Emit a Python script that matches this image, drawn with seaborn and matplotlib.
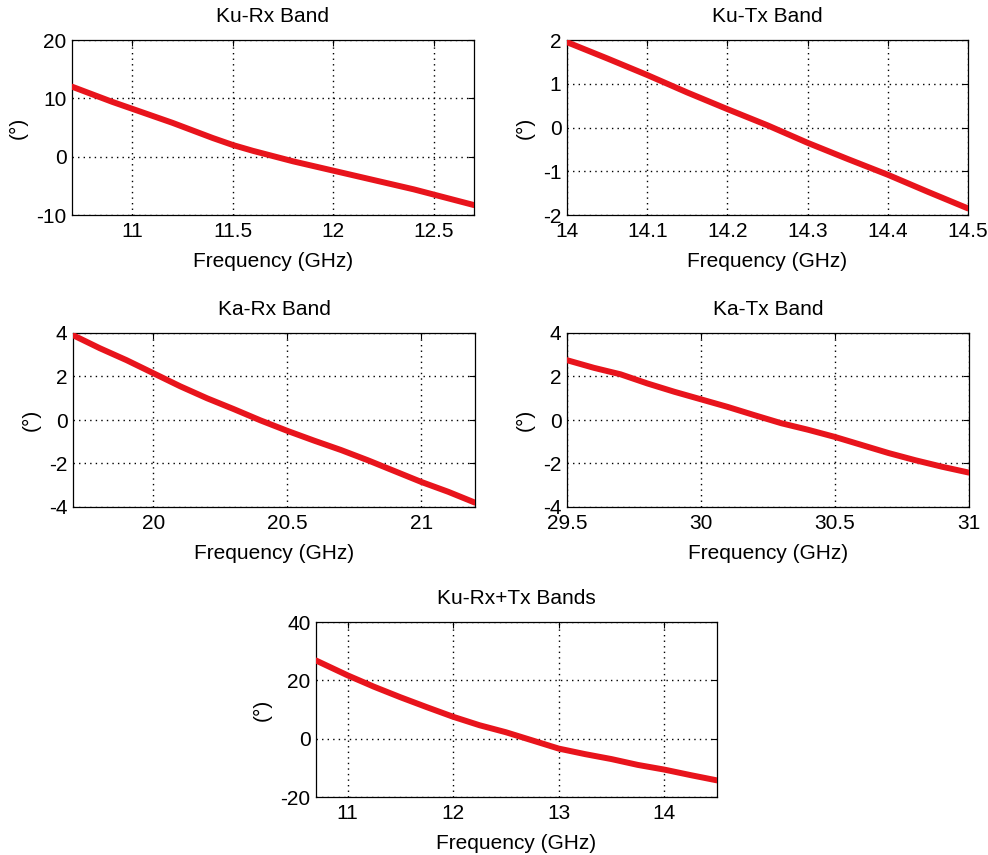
import numpy as np
import pandas as pd
import matplotlib
matplotlib.use("Agg")
import matplotlib.pyplot as plt
import seaborn as sns

# ---- data ----
ku_rx_f = [10.7, 10.8, 10.9, 11.0, 11.1, 11.2, 11.3, 11.4, 11.5, 11.6, 11.7, 11.8, 11.9, 12.0, 12.1, 12.2, 12.3, 12.4, 12.5, 12.6, 12.7]
ku_rx_v = [12.0, 10.7, 9.4, 8.2, 7.0, 5.8, 4.5, 3.2, 2.0, 1.0, 0.1, -0.8, -1.6, -2.4, -3.2, -4.0, -4.8, -5.6, -6.5, -7.4, -8.3]

ku_tx_f = [14.0, 14.05, 14.1, 14.15, 14.2, 14.25, 14.3, 14.35, 14.4, 14.45, 14.5]
ku_tx_v = [1.95, 1.58, 1.2, 0.8, 0.42, 0.05, -0.35, -0.72, -1.08, -1.47, -1.85]

ka_rx_f = [19.7, 19.8, 19.9, 20.0, 20.1, 20.2, 20.3, 20.4, 20.5, 20.6, 20.7, 20.8, 20.9, 21.0, 21.1, 21.2]
ka_rx_v = [3.9, 3.3, 2.75, 2.15, 1.55, 1.0, 0.5, -0.02, -0.5, -0.95, -1.38, -1.85, -2.35, -2.85, -3.3, -3.8]

ka_tx_f = [29.5, 29.6, 29.7, 29.8, 29.9, 30.0, 30.1, 30.2, 30.3, 30.4, 30.5, 30.6, 30.7, 30.8, 30.9, 31.0]
ka_tx_v = [2.75, 2.4, 2.1, 1.68, 1.3, 0.95, 0.6, 0.22, -0.15, -0.45, -0.78, -1.15, -1.52, -1.85, -2.15, -2.42]

ku_all_f = [10.7, 11.0, 11.25, 11.5, 11.75, 12.0, 12.25, 12.5, 12.75, 13.0, 13.25, 13.5, 13.75, 14.0, 14.25, 14.5]
ku_all_v = [26.8, 21.7, 17.8, 14.2, 10.8, 7.5, 4.6, 2.2, -0.6, -3.4, -5.3, -7.0, -9.0, -10.6, -12.5, -14.3]

titles = ["Ku-Rx Band", "Ku-Tx Band", "Ka-Rx Band", "Ka-Tx Band", "Ku-Rx+Tx Bands"]
xlims = [(10.7, 12.7), (14.0, 14.5), (19.7, 21.2), (29.5, 31.0), (10.7, 14.5)]
ylims = [(-10, 20), (-2, 2), (-4, 4), (-4, 4), (-20, 40)]
xticks = [[11, 11.5, 12, 12.5], [14, 14.1, 14.2, 14.3, 14.4, 14.5], [20, 20.5, 21],
          [29.5, 30, 30.5, 31], [11, 12, 13, 14]]
yticks = [[-10, 0, 10, 20], [-2, -1, 0, 1, 2], [-4, -2, 0, 2, 4], [-4, -2, 0, 2, 4], [-20, 0, 20, 40]]
xlabel = "Frequency (GHz)"
ylabel = "(°)"

series = [(ku_rx_f, ku_rx_v), (ku_tx_f, ku_tx_v), (ka_rx_f, ka_rx_v), (ka_tx_f, ka_tx_v), (ku_all_f, ku_all_v)]

sns.set_style("white")
plt.rcParams["font.family"] = ["Liberation Sans", "DejaVu Sans"]
plt.rcParams["font.size"] = 15
plt.rcParams["text.color"] = "black"
plt.rcParams["axes.labelcolor"] = "black"
plt.rcParams["axes.titlecolor"] = "black"

W, H = 988, 855
fig = plt.figure(figsize=(W / 100, H / 100), dpi=100)

# axes boxes in pixels: left, top, right, bottom
boxes = [(72, 40, 474, 215), (567, 40, 968, 215), (73, 333, 475, 507), (567, 333, 969, 507), (316, 622, 717, 797)]

def fmt(v):
    return f"{v:g}"

for i, ((f, v), (l, t, r, b)) in enumerate(zip(series, boxes)):
    ax = fig.add_axes([l / W, 1 - b / H, (r - l) / W, (b - t) / H])
    df = pd.DataFrame({"f": f, "v": v})
    sns.lineplot(data=df, x="f", y="v", ax=ax, color="#e8141c", linewidth=4.3, zorder=3)
    ax.set_xlim(*xlims[i])
    ax.set_ylim(*ylims[i])
    ax.set_xticks(xticks[i])
    ax.set_yticks(yticks[i])
    ax.set_xticklabels([fmt(x) for x in xticks[i]])
    ax.set_yticklabels([fmt(y) for y in yticks[i]])
    ax.grid(True, color="black", linestyle=(0, (1, 3)), linewidth=1.0)
    ax.tick_params(direction="in", top=True, right=True, length=4, width=0.8,
                   labelsize=15, colors="black")
    ax.tick_params(axis="x", pad=5)
    ax.tick_params(axis="y", pad=4)
    for s in ax.spines.values():
        s.set_visible(True)
        s.set_color("black")
        s.set_linewidth(0.9)
    ax.set_title(titles[i], fontsize=15, pad=13)
    ax.set_xlabel(xlabel, fontsize=15, labelpad=8)
    ax.set_ylabel(ylabel, fontsize=15, labelpad=6)

fig.savefig("out.png", dpi=100, facecolor="white")
